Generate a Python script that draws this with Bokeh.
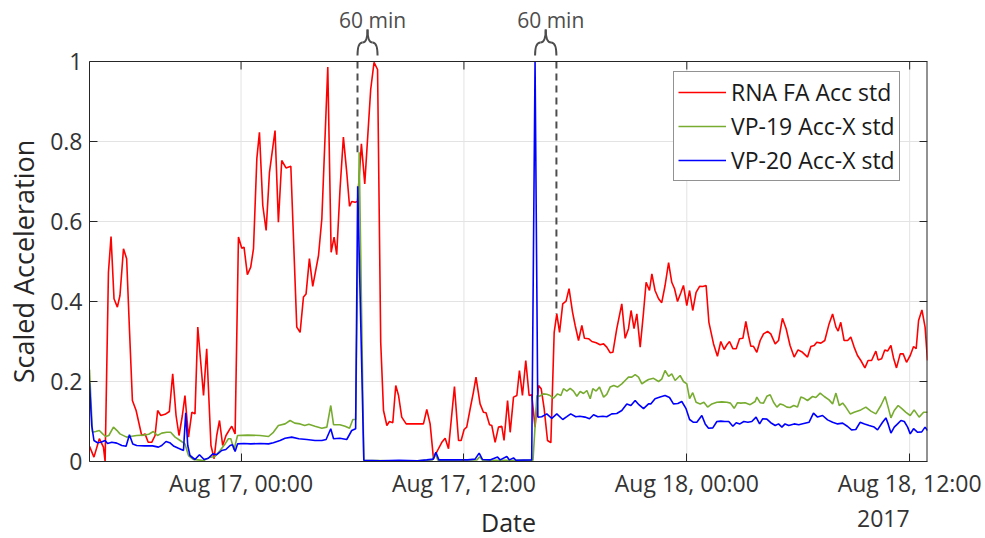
import numpy as np
import pandas as pd
from bokeh.plotting import figure
from bokeh.models import (Range1d, FixedTicker, Span, DatetimeTickFormatter, ColumnDataSource)
from bokeh.layouts import column, row
from bokeh.embed import file_html
from bokeh.resources import INLINE
from bokeh.core.properties import value

# ---------------- data (hours after 2017-08-17 00:00) ----------------
BASE = "2017-08-17 00:00"

rna_h = [-8.16, -7.92, -7.63, -7.41, -7.32, -7.14, -7.00, -6.84, -6.66, -6.52, -6.33, -6.16,
         -6.01, -5.85, -5.65, -5.35, -5.17, -5.00, -4.81, -4.63, -4.49, -4.32, -4.09, -3.86,
         -3.68, -3.50, -3.34, -3.16, -3.02, -2.83, -2.65, -2.48, -2.33, -2.02, -1.85, -1.62,
         -1.45, -1.31, -1.16, -0.99, -0.81, -0.59, -0.50, -0.32, -0.14, 0.04, 0.16, 0.34,
         0.52, 0.67, 0.85, 0.99, 1.17, 1.35, 1.53, 1.83, 2.01, 2.19, 2.42, 2.68, 3.00, 3.18,
         3.36, 3.50, 3.68, 3.86, 4.17, 4.35, 4.67, 4.85, 5.01, 5.15, 5.33, 5.51, 5.69, 5.84,
         5.96, 6.14, 6.27, 6.48, 6.66, 6.98, 7.16, 7.35, 7.52, 7.67, 7.85, 7.99, 8.17, 8.33,
         8.48, 8.65, 8.89, 9.82, 10.00, 10.18, 10.36, 10.58, 10.81, 10.99, 11.17, 11.49,
         11.71, 11.85, 12.01, 12.15, 12.37, 12.51, 12.65, 12.87, 13.05, 13.19, 13.38, 13.50,
         13.68, 13.86, 14.04, 14.16, 14.35, 14.49, 14.67, 14.85, 14.99, 15.15, 15.33, 15.51,
         15.65, 15.83, 16.02, 16.16, 16.32, 16.50, 16.68, 16.86, 17.00, 17.15, 17.32, 17.50,
         17.66, 17.85, 17.99, 18.17, 18.35, 18.49, 18.71, 18.89, 19.12, 19.33, 19.52, 19.69,
         19.87, 20.02, 20.23, 20.50, 20.68, 20.86, 21.00, 21.16, 21.31, 21.49, 21.67, 21.81,
         21.99, 22.12, 22.29, 22.48, 22.65, 22.83, 23.02, 23.19, 23.34, 23.50, 23.68, 23.82,
         24.00, 24.15, 24.32, 24.50, 24.69, 24.86, 25.04, 25.19, 25.44, 25.65, 25.83, 26.01,
         26.16, 26.30, 26.48, 26.66, 26.84, 27.02, 27.18, 27.32, 27.45, 27.59, 27.77, 27.95,
         28.13, 28.35, 28.52, 28.76, 28.94, 29.15, 29.35, 29.56, 29.78, 29.99, 30.23, 30.50,
         30.68, 30.86, 31.00, 31.22, 31.43, 31.66, 31.85, 32.03, 32.15, 32.29, 32.47, 32.66,
         32.83, 33.01, 33.19, 33.37, 33.59, 33.76, 33.95, 34.18, 34.30, 34.49, 34.66, 34.81,
         34.99, 35.13, 35.29, 35.49, 35.65, 35.83, 36.03, 36.21, 36.35, 36.48, 36.66, 36.83,
         36.96]
rna_v = [0.038, 0.011, 0.057, 0.036, 0.0, 0.473, 0.5625, 0.407, 0.386, 0.415, 0.532, 0.507,
         0.332, 0.1525, 0.1275, 0.065, 0.069, 0.048, 0.048, 0.065, 0.1275, 0.115, 0.118, 0.125,
         0.219, 0.115, 0.065, 0.115, 0.165, 0.061, 0.123, 0.119, 0.336, 0.165, 0.282, 0.04,
         0.007, 0.065, 0.1025, 0.04, 0.065, 0.082, 0.088, 0.069, 0.561, 0.533, 0.536, 0.467,
         0.486, 0.532, 0.757, 0.823, 0.64, 0.5775, 0.723, 0.8275, 0.598, 0.7525, 0.734, 0.738,
         0.336, 0.323, 0.411, 0.419, 0.507, 0.438, 0.515, 0.607, 0.986, 0.523, 0.561, 0.517,
         0.682, 0.811, 0.723, 0.638, 0.65, 0.648, 0.65, 0.794, 0.694, 0.93, 0.998, 0.98, 0.298,
         0.1275, 0.09, 0.1, 0.097, 0.19, 0.165, 0.111, 0.094, 0.094, 0.13, 0.094, 0.007,
         0.0275, 0.048, 0.058, 0.032, 0.1875, 0.0525, 0.0525, 0.08, 0.086, 0.14, 0.173, 0.211,
         0.144, 0.123, 0.122, 0.092, 0.09, 0.048, 0.086, 0.088, 0.0525, 0.1525, 0.073, 0.161,
         0.165, 0.2275, 0.165, 0.2525, 0.165, 0.167, 0.086, 0.19, 0.182, 0.132, 0.0525, 0.047,
         0.323, 0.369, 0.323, 0.394, 0.401, 0.432, 0.373, 0.34, 0.3025, 0.34, 0.308, 0.307,
         0.3, 0.297, 0.292, 0.294, 0.286, 0.272, 0.273, 0.332, 0.394, 0.308, 0.332, 0.3775,
         0.332, 0.369, 0.286, 0.373, 0.448, 0.4275, 0.469, 0.4275, 0.407, 0.397, 0.44, 0.497,
         0.448, 0.432, 0.4, 0.422, 0.44, 0.39, 0.4275, 0.3775, 0.423, 0.438, 0.4375, 0.44,
         0.348, 0.294, 0.263, 0.3, 0.28, 0.292, 0.3, 0.282, 0.282, 0.307, 0.308, 0.35, 0.315,
         0.288, 0.288, 0.273, 0.3025, 0.319, 0.325, 0.319, 0.294, 0.3025, 0.358, 0.332, 0.29,
         0.261, 0.279, 0.273, 0.261, 0.2875, 0.29, 0.298, 0.296, 0.3025, 0.344, 0.369, 0.336,
         0.326, 0.348, 0.3025, 0.3025, 0.311, 0.286, 0.265, 0.2525, 0.234, 0.2525, 0.2525,
         0.276, 0.254, 0.257, 0.279, 0.276, 0.29, 0.259, 0.234, 0.269, 0.269, 0.248, 0.265,
         0.2875, 0.282, 0.3525, 0.379, 0.336, 0.2525]

vp19_h = [-8.16, -8.00, -7.83, -7.63, -7.45, -7.29, -7.12, -6.87, -6.69, -6.52, -6.16, -5.89,
          -5.62, -5.26, -4.97, -4.72, -4.50, -4.27, -4.00, -3.79, -3.55, -3.28, -3.02, -2.83,
          -2.56, -2.33, -2.02, -1.67, -1.42, -1.13, -0.86, -0.68, -0.55, -0.38, -0.19, 0.34,
          1.02, 1.48, 1.74, 2.01, 2.37, 2.64, 2.89, 3.18, 3.43, 3.65, 3.98, 4.35, 4.62, 4.83,
          4.98, 5.32, 5.60, 5.84, 6.02, 6.17, 6.36, 6.61, 8.00, 9.50, 10.30, 10.45, 10.60,
          12.70, 12.85, 13.00, 15.72, 15.93, 16.07, 16.28, 16.46, 16.64, 16.82, 17.04, 17.22,
          17.36, 17.54, 17.72, 17.90, 18.08, 18.26, 18.44, 18.62, 18.80, 18.94, 19.12, 19.30,
          19.52, 19.69, 19.87, 20.07, 20.27, 20.50, 20.68, 20.86, 21.04, 21.22, 21.40, 21.58,
          21.76, 21.94, 22.21, 22.48, 22.65, 22.83, 23.02, 23.19, 23.37, 23.64, 23.82, 24.00,
          24.15, 24.32, 24.50, 24.72, 24.92, 25.12, 25.35, 25.62, 25.89, 26.16, 26.35, 26.55,
          26.73, 26.91, 27.14, 27.41, 27.68, 27.77, 27.95, 28.13, 28.31, 28.49, 28.67, 28.85,
          29.03, 29.21, 29.39, 29.56, 29.76, 29.96, 30.14, 30.32, 30.50, 30.77, 30.95, 31.18,
          31.40, 31.66, 31.85, 32.03, 32.21, 32.39, 32.56, 32.80, 33.01, 33.37, 33.64, 33.91,
          34.18, 34.45, 34.68, 34.84, 34.99, 35.17, 35.38, 35.58, 35.80, 36.03, 36.24, 36.51,
          36.75, 36.96]
vp19_v = [0.23, 0.073, 0.075, 0.0775, 0.069, 0.0625, 0.065, 0.086, 0.078, 0.069, 0.061, 0.063,
          0.065, 0.066, 0.068, 0.075, 0.065, 0.071, 0.073, 0.073, 0.061, 0.0525, 0.044, 0.015,
          0.005, 0.004, 0.0025, 0.011, 0.012, 0.0275, 0.044, 0.057, 0.057, 0.029, 0.065, 0.066,
          0.065, 0.0625, 0.073, 0.09, 0.094, 0.1025, 0.096, 0.094, 0.09, 0.093, 0.088, 0.083,
          0.086, 0.14, 0.092, 0.092, 0.088, 0.083, 0.105, 0.105, 0.773, 0.003, 0.002, 0.002,
          0.004, 0.02, 0.003, 0.004, 0.012, 0.003, 0.003, 0.165, 0.163, 0.169, 0.168, 0.165,
          0.158, 0.169, 0.165, 0.182, 0.176, 0.183, 0.176, 0.163, 0.175, 0.17, 0.1775, 0.157,
          0.182, 0.176, 0.186, 0.161, 0.168, 0.186, 0.19, 0.186, 0.194, 0.2025, 0.211, 0.211,
          0.217, 0.211, 0.194, 0.2, 0.205, 0.208, 0.2, 0.206, 0.2275, 0.213, 0.219, 0.2025,
          0.215, 0.2, 0.194, 0.157, 0.172, 0.148, 0.144, 0.148, 0.136, 0.144, 0.148, 0.149,
          0.148, 0.146, 0.133, 0.147, 0.146, 0.147, 0.142, 0.15, 0.161, 0.147, 0.146, 0.163,
          0.167, 0.148, 0.136, 0.144, 0.141, 0.136, 0.135, 0.14, 0.136, 0.161, 0.158, 0.1525,
          0.1625, 0.16, 0.171, 0.1625, 0.154, 0.144, 0.171, 0.14, 0.146, 0.136, 0.119, 0.123,
          0.129, 0.136, 0.126, 0.119, 0.14, 0.1625, 0.136, 0.109, 0.1275, 0.14, 0.132, 0.123,
          0.115, 0.129, 0.111, 0.123, 0.123]

vp20_h = [-8.16, -8.04, -7.92, -7.73, -7.55, -7.32, -7.19, -6.96, -6.69, -6.42, -6.19, -6.01,
          -5.83, -5.62, -5.19, -4.76, -4.45, -4.27, -4.04, -3.84, -3.61, -3.37, -3.10, -2.98,
          -2.87, -2.75, -2.48, -2.24, -1.99, -1.76, -1.52, -1.31, -1.04, -0.82, -0.59, -0.46,
          -0.32, -0.19, 0.15, 0.52, 1.02, 1.48, 1.74, 2.10, 2.37, 2.73, 3.11, 3.54, 3.98, 4.35,
          4.58, 4.83, 4.98, 5.32, 5.69, 5.96, 6.17, 6.28, 6.61, 7.50, 8.50, 9.50, 10.00, 10.35,
          10.49, 10.65, 11.50, 12.20, 12.60, 12.82, 13.00, 13.40, 13.81, 13.95, 14.31, 14.45,
          14.67, 14.80, 15.65, 15.83, 15.98, 16.19, 16.46, 16.73, 17.00, 17.32, 17.54, 17.75,
          18.02, 18.24, 18.52, 18.76, 18.98, 19.21, 19.48, 19.69, 19.96, 20.23, 20.50, 20.77,
          20.99, 21.22, 21.42, 21.67, 21.94, 22.06, 22.29, 22.56, 22.83, 23.07, 23.28, 23.52,
          23.73, 23.96, 24.15, 24.36, 24.54, 24.81, 24.99, 25.17, 25.40, 25.62, 25.83, 26.05,
          26.26, 26.48, 26.66, 26.86, 27.07, 27.29, 27.50, 27.73, 27.92, 28.09, 28.31, 28.52,
          28.76, 28.94, 29.12, 29.29, 29.49, 29.78, 30.03, 30.30, 30.58, 30.82, 31.04, 31.31,
          31.58, 31.85, 32.12, 32.39, 32.66, 32.87, 33.10, 33.33, 33.57, 33.82, 34.09, 34.27,
          34.54, 34.72, 34.84, 34.99, 35.17, 35.35, 35.53, 35.71, 35.89, 36.03, 36.21, 36.43,
          36.65, 36.83, 36.96]
vp20_v = [0.197, 0.09, 0.0525, 0.047, 0.048, 0.0525, 0.045, 0.048, 0.046, 0.04, 0.038, 0.067,
          0.044, 0.04, 0.039, 0.039, 0.036, 0.04, 0.05, 0.047, 0.038, 0.033, 0.0275, 0.122,
          0.04, 0.015, 0.005, 0.017, 0.005, 0.008, 0.019, 0.017, 0.0275, 0.03, 0.04, 0.042,
          0.025, 0.044, 0.045, 0.044, 0.045, 0.044, 0.047, 0.0525, 0.058, 0.061, 0.057, 0.055,
          0.0525, 0.0525, 0.055, 0.082, 0.057, 0.058, 0.055, 0.0775, 0.082, 0.688, 0.003,
          0.002, 0.003, 0.002, 0.004, 0.006, 0.023, 0.004, 0.004, 0.004, 0.006, 0.021, 0.005,
          0.004, 0.011, 0.004, 0.0125, 0.004, 0.009, 0.003, 0.004, 1.0, 0.111, 0.112, 0.119,
          0.108, 0.119, 0.105, 0.112, 0.119, 0.112, 0.113, 0.111, 0.107, 0.117, 0.112, 0.113,
          0.112, 0.119, 0.12, 0.1275, 0.144, 0.14, 0.1525, 0.142, 0.132, 0.144, 0.144, 0.157,
          0.161, 0.165, 0.16, 0.144, 0.145, 0.15, 0.132, 0.105, 0.098, 0.098, 0.115, 0.094,
          0.083, 0.084, 0.1, 0.101, 0.1, 0.1, 0.088, 0.097, 0.094, 0.1, 0.098, 0.1, 0.111,
          0.094, 0.107, 0.106, 0.097, 0.09, 0.094, 0.086, 0.094, 0.09, 0.094, 0.092, 0.095,
          0.098, 0.121, 0.111, 0.115, 0.104, 0.098, 0.094, 0.096, 0.0875, 0.079, 0.08, 0.098,
          0.094, 0.09, 0.086, 0.079, 0.098, 0.109, 0.094, 0.071, 0.086, 0.094, 0.1025, 0.1,
          0.086, 0.069, 0.082, 0.073, 0.074, 0.086, 0.0775]

series_names = ["RNA FA Acc std", "VP-19 Acc-X std", "VP-20 Acc-X std"]

# annotated 60-minute gaps (hours after BASE)
gap_start_h = [6.27, 15.83]
gap_end_h = [7.35, 16.98]
gap_labels = ["60 min", "60 min"]
dashed_h = [6.27, 16.98]          # dashed marker times

x_tick_times = ["2017-08-17 00:00", "2017-08-17 12:00", "2017-08-18 00:00", "2017-08-18 12:00"]
y_ticks = [0, 0.2, 0.4, 0.6, 0.8, 1]
y_tick_labels = ["0", "0.2", "0.4", "0.6", "0.8", "1"]
x_title = "Date"
y_title = "Scaled Acceleration"
year_label = "2017"

# ---------------- helpers ----------------
base = pd.Timestamp(BASE)
epoch = pd.Timestamp("1970-01-01")


def to_dt(h):
    return (base + pd.to_timedelta(np.asarray(h, float), unit="h")).values


def to_ms(h):
    return np.array([(base + pd.Timedelta(hours=float(v)) - epoch) / pd.Timedelta(milliseconds=1)
                     for v in h])


x_ticks_ms = np.array([(pd.Timestamp(t) - epoch) / pd.Timedelta(milliseconds=1)
                       for t in x_tick_times])

FONT = "Open Sans"
AX = "#262626"
TXT = "#333333"
ANN = "#4D4D4D"
GRID = "#E3E3E3"

x_start = to_ms([min(rna_h)])[0]
x_end = to_ms([max(rna_h)])[0]
xr = Range1d(start=x_start, end=x_end)

TOTAL_W, TOTAL_H = 985, 538
LEFT_W = 40                        # strip holding the y-axis title
W = TOTAL_W - LEFT_W
BOT_H = 35
MAIN_H = TOTAL_H - BOT_H
LB, RB = 89 - LEFT_W, 58
FRAME_H = 461                      # frame from canvas top to the x axis
FRAME_W = W - LB - RB
PX = 400.0                         # pixels per unit of scaled acceleration
y_top = FRAME_H / PX               # room above 1 for the gap annotations
TICK_Y = 8 / PX                    # inward tick length in y data units
TICK_X = 8 * (x_end - x_start) / FRAME_W   # inward tick length in x data units


def blank(fig):
    fig.grid.visible = False
    fig.outline_line_color = None
    fig.background_fill_color = "white"
    fig.border_fill_color = "white"
    return fig


# ---------------- main figure ----------------
p = figure(width=W, height=MAIN_H, x_axis_type="datetime", x_range=xr,
           y_range=Range1d(0, y_top), output_backend="svg", toolbar_location=None,
           min_border_left=LB, min_border_right=RB, min_border_top=0,
           min_border_bottom=MAIN_H - FRAME_H)
p.background_fill_color = "white"
p.border_fill_color = "white"
p.outline_line_color = None
p.xgrid.visible = False

# vertical grid lines, limited to the axes box
nt = len(x_ticks_ms)
p.segment(x0=x_ticks_ms, y0=[0] * nt, x1=x_ticks_ms, y1=[1] * nt,
          line_color=GRID, line_width=1)
p.ygrid.ticker = FixedTicker(ticks=y_ticks)
p.ygrid.grid_line_color = GRID
p.ygrid.grid_line_width = 1

colors = ["#FF0000", "#77AC30", "#0000FF"]
hs = [rna_h, vp19_h, vp20_h]
vs = [rna_v, vp19_v, vp20_v]
for name, c, h, v in zip(series_names, colors, hs, vs):
    src = ColumnDataSource(dict(t=to_dt(h), v=v))
    p.line("t", "v", source=src, line_color=c, line_width=1.6, legend_label=name)


# dashed markers: from the top of the box down to the highest series value near the marker
def top_near(t, win=0.1):
    best = 0.0
    for h, v in zip(hs, vs):
        h = np.asarray(h)
        v = np.asarray(v)
        m = (h >= t - win) & (h <= t + win)
        if m.any():
            best = max(best, float(v[m].max()))
    return best


dash_bottom = [top_near(t) for t in dashed_h]
p.segment(x0=to_dt(dashed_h), y0=[1.0] * len(dashed_h), x1=to_dt(dashed_h), y1=dash_bottom,
          line_color=ANN, line_width=2, line_dash="7 5")

# top and right edges of the box with their inward ticks
p.add_layout(Span(location=1, dimension="width", line_color=AX, line_width=1))
p.segment(x0=x_ticks_ms, y0=[1] * nt, x1=x_ticks_ms, y1=[1 - TICK_Y] * nt,
          line_color=AX, line_width=1)
ny = len(y_ticks)
p.segment(x0=[x_end], y0=[0], x1=[x_end], y1=[1], line_color=AX, line_width=2)
p.segment(x0=[x_end] * ny, y0=y_ticks, x1=[x_end - TICK_X] * ny, y1=y_ticks,
          line_color=AX, line_width=1)

# axes
xa = p.xaxis[0]
xa.ticker = FixedTicker(ticks=list(x_ticks_ms))
fmt = "%b %d, %H:%M"
xa.formatter = DatetimeTickFormatter(days=fmt, hours=fmt, hourmin=fmt, minutes=fmt,
                                     months=fmt, years=fmt, minsec=fmt, seconds=fmt,
                                     strip_leading_zeros=False)
ya = p.yaxis[0]
ya.ticker = FixedTicker(ticks=y_ticks)
ya.bounds = (0, 1)
ya.major_label_overrides = {float(t): s for t, s in zip(y_ticks, y_tick_labels)}

for ax in (xa, ya):
    ax.major_tick_in = 8
    ax.major_tick_out = 0
    ax.minor_tick_in = 0
    ax.minor_tick_out = 0
    ax.axis_line_color = AX
    ax.major_tick_line_color = AX
    ax.major_label_text_font = FONT
    ax.major_label_text_font_size = "23px"
    ax.major_label_text_color = TXT

xa.major_label_standoff = 5
ya.major_label_standoff = 7

lg = p.legend[0]
lg.location = (584, 280)
lg.label_text_font = FONT
lg.label_text_font_size = "23px"
lg.label_text_color = "#1A1A1A"
lg.glyph_width = 48
lg.glyph_height = 28
lg.label_height = 28
lg.label_standoff = 5
lg.spacing = 2
lg.padding = 4
lg.margin = 0
lg.border_line_color = AX
lg.border_line_width = 1
lg.background_fill_color = "white"
lg.background_fill_alpha = 1

# ---------------- gap braces and labels above the box ----------------
gs = to_ms(gap_start_h)
ge = to_ms(gap_end_h)
gm = (gs + ge) / 2
q = (ge - gs) / 4
Y_END, Y_BAR, Y_TIP = 1 + 6 / PX, 1 + 19 / PX, 1 + 32 / PX
n = len(gs)
x0 = np.concatenate([gs, gs + q, gm, ge - q])
x1 = np.concatenate([gs + q, gm, ge - q, ge])
cx = np.concatenate([gs, gm, gm, ge])
y0 = [Y_END] * n + [Y_BAR] * n + [Y_TIP] * n + [Y_BAR] * n
y1 = [Y_BAR] * n + [Y_TIP] * n + [Y_BAR] * n + [Y_END] * n
cy = [Y_BAR] * (4 * n)
p.quadratic(x0=x0, y0=y0, x1=x1, y1=y1, cx=cx, cy=cy, line_color=ANN, line_width=2)
p.text(x=gm, y=[1 + 42 / PX] * n, text=gap_labels, text_align="center",
       text_baseline="middle", x_offset=5, text_font=value(FONT), text_font_size="21px",
       text_color=ANN)

# ---------------- strip below the axis: axis title and year ----------------
bot = blank(figure(width=W, height=BOT_H, x_range=xr, y_range=Range1d(0, BOT_H),
                   output_backend="svg", toolbar_location=None, x_axis_location=None,
                   y_axis_location=None, min_border_left=LB, min_border_right=RB,
                   min_border_top=0, min_border_bottom=0))
bot.text(x=[(x_start + x_end) / 2], y=[17.0], text=[x_title], text_align="center",
         text_baseline="middle", text_font=value(FONT), text_font_size="25px", text_color=AX)
bot.text(x=[x_ticks_ms[-1]], y=[20.0], text=[year_label], text_align="right",
         text_baseline="middle", text_font=value(FONT), text_font_size="23px", text_color=TXT)

# ---------------- strip left of the axis: y-axis title ----------------
left = blank(figure(width=LEFT_W, height=TOTAL_H, x_range=Range1d(0, LEFT_W),
                    y_range=Range1d(0, TOTAL_H), output_backend="svg", toolbar_location=None,
                    x_axis_location=None, y_axis_location=None, min_border=0))
left.text(x=[22.5], y=[TOTAL_H - (FRAME_H - 200)], text=[y_title], angle=np.pi / 2,
          text_align="center", text_baseline="middle", text_font=value(FONT),
          text_font_size="27px", text_color=AX)

layout = row(left, column(p, bot, spacing=0), spacing=0)
open("out.html", "w").write(file_html(layout, INLINE))
